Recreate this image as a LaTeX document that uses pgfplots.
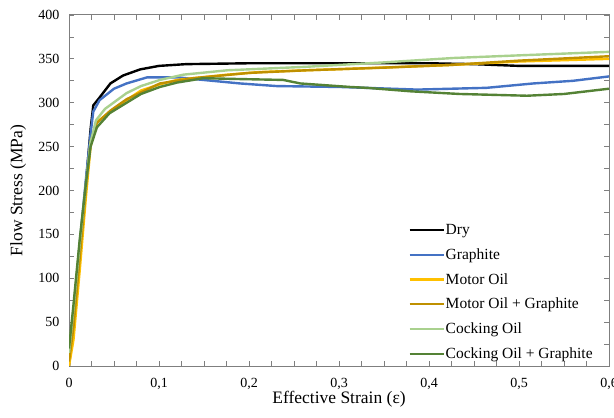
\documentclass[border=0pt]{standalone}
\usepackage{fontspec}
\setmainfont{Liberation Serif}
\usepackage{pgfplots}
\pgfplotsset{compat=1.18}

\definecolor{cGraphite}{HTML}{4472C4}
\definecolor{cMotor}{HTML}{FFC000}
\definecolor{cMotorG}{HTML}{BF9000}
\definecolor{cCock}{HTML}{A9D18E}
\definecolor{cCockG}{HTML}{548235}
\definecolor{axgray}{HTML}{7F7F7F}

\begin{document}
\begin{tikzpicture}
\begin{axis}[
    scale only axis, width=540pt, height=351pt,
    xmin=0, xmax=0.6, ymin=0, ymax=400,
    xtick={0,0.1,0.2,0.3,0.4,0.5,0.6}, minor x tick num=3,
    ytick={0,50,...,400}, minor y tick num=1,
    tick align=inside, major tick length=5pt, minor tick length=5pt,
    tick style={axgray, line width=0.8pt},
    axis line style={axgray, line width=1pt},
    /pgf/number format/assume math mode=true,
    ticklabel style={font=\fontsize{14}{16}\selectfont},
    xticklabel style={yshift=-9pt, /pgf/number format/.cd, use comma, fixed, precision=1},
    yticklabel style={xshift=-6pt},
    xlabel={Effective Strain (ε)}, ylabel={Flow Stress (MPa)},
    label style={font=\fontsize{17.5}{20}\selectfont},
    xlabel style={at={(axis description cs:0.5,-0.095)}, anchor=center},
    ylabel style={at={(axis description cs:-0.094,0.5)}, anchor=center},
    legend cell align=left,
    legend style={draw=none, fill=none, at={(0.628,0.014)}, anchor=south west,
        font=\fontsize{15.5}{18}\selectfont, row sep=10.5pt, inner sep=0pt,
        nodes={inner sep=1pt}},
    legend image code/.code={\draw[#1] (0pt,0pt) -- (34pt,0pt);},
    every axis plot/.append style={line width=2.4pt, line join=round},
]
\addplot[black] coordinates {(0,0) (0.005,50) (0.012,130) (0.019,210) (0.024,270) (0.027,297) (0.034,306) (0.046,322) (0.06,331) (0.079,338) (0.1,342) (0.13,344) (0.2,345) (0.3,345) (0.4,345) (0.45,344) (0.5,342) (0.6,342)};
\addlegendentry{Dry}
\addplot[cGraphite] coordinates {(0,10) (0.005,60) (0.012,140) (0.019,215) (0.024,265) (0.027,290) (0.034,303) (0.05,316) (0.064,322) (0.087,329) (0.12,329) (0.149,326) (0.19,322) (0.231,319) (0.3,318) (0.387,315) (0.464,317) (0.516,322) (0.56,325) (0.6,330)};
\addlegendentry{Graphite}
\addplot[cMotor] coordinates {(0,0) (0.005,30) (0.012,110) (0.019,195) (0.024,250) (0.028,268) (0.031,278) (0.046,290) (0.064,303) (0.08,314) (0.101,321) (0.12,326) (0.138,328) (0.176,332) (0.212,335) (0.264,337) (0.32,339) (0.423,343) (0.5,347) (0.6,350)};
\addlegendentry{Motor Oil}
\addplot[cMotorG] coordinates {(0,5) (0.005,45) (0.012,125) (0.019,205) (0.024,255) (0.031,277) (0.046,291) (0.064,304) (0.101,322) (0.138,328) (0.2,334) (0.264,337) (0.35,340) (0.423,343) (0.5,348) (0.6,353)};
\addlegendentry{Motor Oil + Graphite}
\addplot[cCock] coordinates {(0,15) (0.005,65) (0.012,140) (0.019,210) (0.024,255) (0.03,280) (0.04,293) (0.064,311) (0.08,319) (0.101,326) (0.127,332) (0.176,337) (0.264,341) (0.35,346) (0.427,351) (0.5,354) (0.6,358)};
\addlegendentry{Cocking Oil}
\addplot[cCockG] coordinates {(0,20) (0.005,70) (0.012,145) (0.019,210) (0.024,250) (0.031,272) (0.045,288) (0.064,300) (0.08,310) (0.101,318) (0.12,323) (0.138,326) (0.149,328) (0.19,327) (0.238,326) (0.257,322) (0.312,318) (0.331,317) (0.38,313) (0.434,310) (0.509,308) (0.55,310) (0.6,316)};
\addlegendentry{Cocking Oil + Graphite}
\end{axis}
\pgfresetboundingbox
\path (current axis.south west) ++(-69pt,-51pt) coordinate (bbA);
\path (current axis.north east) ++(5pt,15pt) coordinate (bbB);
\useasboundingbox (bbA) rectangle (bbB);
\end{tikzpicture}
\end{document}
